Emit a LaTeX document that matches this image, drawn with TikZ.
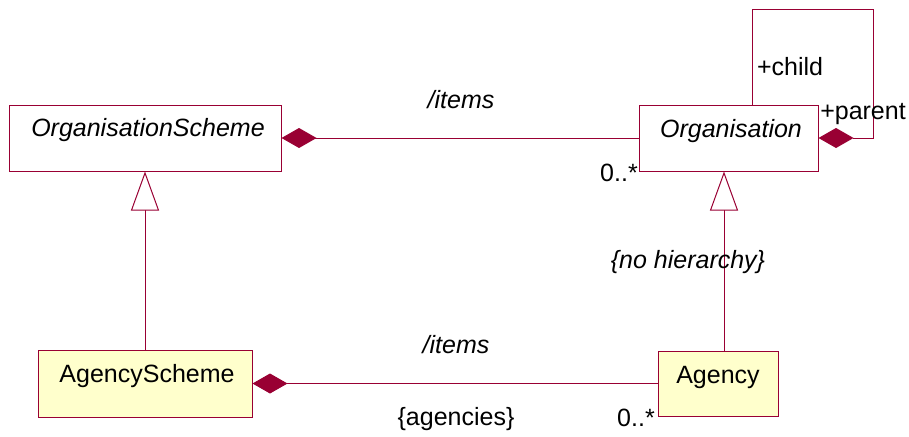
\documentclass[tikz,border=0pt]{standalone}
\usepackage{fontspec}
\setmainfont{Liberation Sans}
\usetikzlibrary{arrows.meta}
\definecolor{umlline}{RGB}{153,0,51}
\definecolor{umlfill}{RGB}{255,255,204}
\tikzset{
  classbox/.style={draw=umlline, line width=1pt, fill=white, inner sep=0pt, rectangle},
  yellowbox/.style={classbox, fill=umlfill},
  lbl/.style={inner sep=0pt, anchor=base, font=\fontsize{25}{30}\selectfont},
  ilbl/.style={lbl, font=\fontsize{25}{30}\selectfont\itshape},
  conn/.style={draw=umlline, line width=1pt},
  comp/.style={conn, -{Diamond[length=35pt,width=20pt,fill=umlline]}},
  gen/.style={conn, -{Triangle[open,length=39pt,width=28pt,fill=white]}}
}
\begin{document}
\begin{tikzpicture}[x=1pt,y=-1pt]
\useasboundingbox (0,0) rectangle (909,436);

% class boxes
\node[classbox, minimum width=272pt, minimum height=66pt] (os) at (145,138) {};
\node[classbox, minimum width=179pt, minimum height=66pt] (org) at (728.5,138) {};
\node[yellowbox, minimum width=214pt, minimum height=67pt] (as) at (145,383.5) {};
\node[yellowbox, minimum width=120pt, minimum height=65pt] (ag) at (718,383.5) {};

% class names
\node[ilbl] (osname) at (148,136) {OrganisationScheme};
\node[ilbl] (orgname) at (731,137) {Organisation};
\node[lbl] (asname) at (147,382) {AgencyScheme};
\node[lbl] (agname) at (718,383) {Agency};

% helper points for the bent and offset connectors
\coordinate (genx) at (724,0);
\coordinate (lc1) at (752,10);
\coordinate (lc2) at (873,10);

% compositions
\draw[comp] (org.west) -- (os.east);
\draw[comp] (ag.west) -- (as.east);
\draw[comp] (org.north -| lc1) -- (lc1) -- (lc2) |- (org.east);

% generalisations
\draw[gen] (as.north) -- (os.south);
\draw[gen] (ag.north -| genx) -- (org.south -| genx);

% association labels
\node[ilbl] (items1) at (461,108) {/items};
\node[lbl] (mult1) at (619,181) {0..*};
\node[lbl] (child) at (790,75) {+child};
\node[lbl] (parent) at (863,119) {+parent};
\node[ilbl] (nohier) at (688,268) {\{no hierarchy\}};
\node[ilbl] (items2) at (456,353) {/items};
\node[lbl] (agencies) at (456,425) {\{agencies\}};
\node[lbl] (mult2) at (636,426) {0..*};
\end{tikzpicture}
\end{document}
